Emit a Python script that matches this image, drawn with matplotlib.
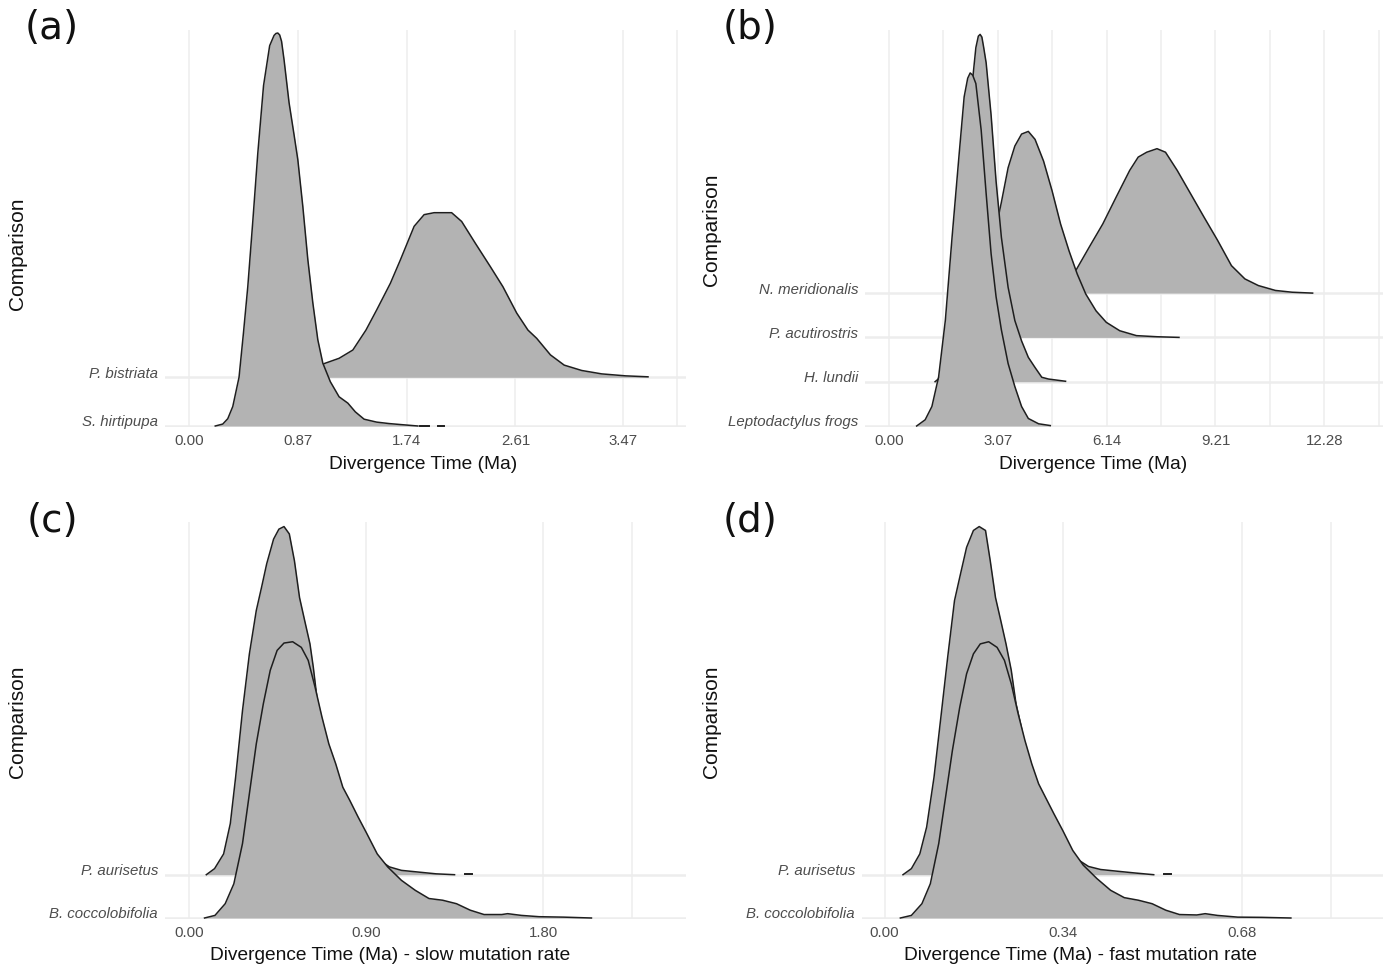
import matplotlib.pyplot as plt
import matplotlib.transforms as mtransforms
import numpy as np

FILL = '#B3B3B3'
LINE = '#1E1E1E'
GRID = '#EDEDED'
TXT = '#4D4D4D'
FONT = ['Liberation Sans', 'DejaVu Sans']

# ---- panel (a)
a_labels = ['S. hirtipupa', 'P. bistriata']
a_ticks = [0.00, 0.87, 1.74, 2.61, 3.47]
a_ticklabels = ['0.00', '0.87', '1.74', '2.61', '3.47']
a_grid = [0.00, 0.87, 1.74, 2.61, 3.47, 3.905]
a_hirt_x = [0.21, 0.27, 0.31, 0.35, 0.40, 0.435, 0.47, 0.51, 0.55, 0.596, 0.645, 0.68, 0.695, 0.71,
            0.725, 0.74, 0.76, 0.80, 0.84, 0.87, 0.91, 0.95, 0.99, 1.03, 1.07, 1.13, 1.20, 1.27,
            1.33, 1.40, 1.50, 1.60, 1.69, 1.83]
a_hirt_h = [0.00, 0.04, 0.15, 0.40, 1.00, 1.90, 2.86, 4.20, 5.60, 6.99, 7.81, 8.02, 8.06, 8.07,
            8.03, 7.90, 7.52, 6.64, 5.98, 5.47, 4.51, 3.42, 2.53, 1.77, 1.29, 0.91, 0.60, 0.47,
            0.29, 0.14, 0.08, 0.05, 0.03, 0.00]
a_hirt_dash = [(1.85, 1.92), (1.99, 2.04)]
a_bist_x = [0.45, 0.60, 0.75, 0.90, 1.00, 1.09, 1.20, 1.31, 1.415, 1.50, 1.61, 1.69, 1.80, 1.88,
            1.96, 2.10, 2.18, 2.29, 2.41, 2.51, 2.62, 2.71, 2.78, 2.89, 3.00, 3.14, 3.30, 3.49, 3.67]
a_bist_h = [0.00, 0.02, 0.06, 0.13, 0.20, 0.29, 0.39, 0.56, 0.97, 1.38, 1.93, 2.41, 3.10, 3.34,
            3.38, 3.38, 3.20, 2.75, 2.27, 1.86, 1.32, 0.97, 0.80, 0.46, 0.25, 0.14, 0.07, 0.03, 0.01]

# ---- panel (b)
b_labels = ['Leptodactylus frogs', 'H. lundii', 'P. acutirostris', 'N. meridionalis']
b_ticks = [0.00, 3.07, 6.14, 9.21, 12.28]
b_ticklabels = ['0.00', '3.07', '6.14', '9.21', '12.28']
b_grid = [0.0, 1.535, 3.07, 4.605, 6.14, 7.675, 9.21, 10.745, 12.28, 13.815]
b_lepto_x = [0.78, 1.02, 1.21, 1.40, 1.59, 1.78, 1.98, 2.12, 2.22, 2.29, 2.36, 2.45, 2.60, 2.74,
             2.88, 3.02, 3.17, 3.36, 3.55, 3.74, 3.93, 4.22, 4.55]
b_lepto_h = [0.00, 0.14, 0.44, 1.11, 2.39, 4.27, 6.15, 7.43, 7.85, 7.97, 7.92, 7.73, 6.68, 5.25,
             3.89, 2.92, 2.17, 1.41, 0.89, 0.44, 0.17, 0.05, 0.01]
b_lundii_x = [1.30, 1.45, 1.60, 1.75, 1.90, 2.05, 2.20, 2.36, 2.45, 2.52, 2.57, 2.62, 2.67, 2.74,
              2.88, 3.02, 3.17, 3.36, 3.55, 3.74, 3.93, 4.12, 4.31, 4.50, 4.98]
b_lundii_h = [0.00, 0.10, 0.30, 0.80, 1.80, 3.30, 5.00, 6.83, 7.54, 7.80, 7.84, 7.78, 7.55, 7.20,
              6.02, 4.53, 3.26, 2.13, 1.38, 0.92, 0.55, 0.32, 0.10, 0.06, 0.01]
b_acut_x = [1.70, 2.00, 2.50, 3.00, 3.17, 3.36, 3.55, 3.74, 3.93, 4.12, 4.36, 4.60, 4.84, 5.08,
            5.31, 5.55, 5.84, 6.13, 6.51, 6.98, 7.56, 8.18]
b_acut_h = [0.00, 0.40, 1.20, 2.40, 3.05, 3.83, 4.32, 4.59, 4.65, 4.47, 3.98, 3.31, 2.56, 1.95,
            1.43, 0.98, 0.60, 0.34, 0.15, 0.04, 0.015, 0.00]
b_meri_x = [3.20, 3.80, 4.30, 4.80, 5.27, 5.65, 6.03, 6.41, 6.79, 7.03, 7.27, 7.56, 7.80, 8.13,
            8.51, 8.89, 9.27, 9.66, 10.04, 10.42, 10.90, 11.37, 11.95]
b_meri_h = [0.00, 0.08, 0.18, 0.30, 0.51, 1.04, 1.56, 2.17, 2.77, 3.07, 3.18, 3.26, 3.18, 2.77,
            2.24, 1.71, 1.19, 0.62, 0.32, 0.17, 0.06, 0.02, 0.00]

# ---- panel (c) slow rate
c_labels = ['B. coccolobifolia', 'P. aurisetus']
c_ticks = [0.00, 0.90, 1.80]
c_ticklabels = ['0.00', '0.90', '1.80']
c_grid = [0.0, 0.9, 1.8, 2.25]
c_cocco_x = [0.079, 0.132, 0.184, 0.228, 0.272, 0.307, 0.342, 0.378, 0.413, 0.448, 0.483, 0.527,
             0.571, 0.606, 0.641, 0.676, 0.711, 0.746, 0.782, 0.817, 0.86, 0.904, 0.957, 1.01,
             1.08, 1.15, 1.22, 1.29, 1.36, 1.43, 1.50, 1.59, 1.62, 1.69, 1.78, 1.905, 2.046]
c_cocco_h = [0.00, 0.06, 0.33, 0.79, 1.72, 2.87, 4.02, 4.95, 5.72, 6.18, 6.35, 6.38,
             6.25, 5.95, 5.33, 4.64, 4.02, 3.56, 3.02, 2.72, 2.33, 1.95, 1.48, 1.18,
             0.87, 0.64, 0.45, 0.41, 0.33, 0.18, 0.08, 0.08, 0.10, 0.06, 0.03, 0.02, 0.00]
c_auri_x = [0.088, 0.13, 0.176, 0.21, 0.237, 0.272, 0.307, 0.342, 0.369, 0.395, 0.43, 0.457, 0.483,
            0.51, 0.536, 0.562, 0.588, 0.615, 0.632, 0.65, 0.676, 0.711, 0.764, 0.817, 0.887,
            0.957, 1.019, 1.08, 1.168, 1.256, 1.35]
c_auri_h = [0.00, 0.14, 0.48, 1.18, 2.25, 3.79, 5.10, 6.10, 6.64, 7.18, 7.75, 7.98, 8.04,
            7.87, 7.25, 6.40, 5.87, 5.33, 4.79, 4.10, 3.48, 2.64, 1.79, 1.18, 0.72,
            0.37, 0.18, 0.10, 0.06, 0.02, 0.00]
c_auri_dash = [(1.405, 1.44)]

# ---- panel (d) fast rate
d_labels = ['B. coccolobifolia', 'P. aurisetus']
d_ticks = [0.00, 0.34, 0.68]
d_ticklabels = ['0.00', '0.34', '0.68']
d_grid = [0.0, 0.34, 0.68, 0.85]
d_cocco_x = [0.030, 0.051, 0.071, 0.087, 0.103, 0.116, 0.129, 0.143, 0.156, 0.169, 0.182, 0.198,
             0.214, 0.228, 0.241, 0.254, 0.267, 0.280, 0.293, 0.306, 0.322, 0.339, 0.358, 0.378,
             0.404, 0.430, 0.456, 0.483, 0.509, 0.535, 0.561, 0.594, 0.610, 0.633, 0.672, 0.718,
             0.773]
d_cocco_h = [0.00, 0.06, 0.33, 0.79, 1.72, 2.79, 3.87, 4.87, 5.64, 6.10, 6.33, 6.38,
             6.25, 5.95, 5.41, 4.72, 4.10, 3.56, 3.10, 2.79, 2.41, 2.02, 1.56, 1.22,
             0.91, 0.64, 0.47, 0.41, 0.33, 0.18, 0.08, 0.07, 0.10, 0.06, 0.02, 0.015,
             0.00]
d_auri_x = [0.035, 0.051, 0.067, 0.080, 0.094, 0.107, 0.120, 0.133, 0.143, 0.156, 0.169, 0.180,
            0.192, 0.201, 0.211, 0.221, 0.231, 0.241, 0.250, 0.260, 0.273, 0.293, 0.313, 0.339,
            0.365, 0.388, 0.411, 0.443, 0.476, 0.512]
d_auri_h = [0.00, 0.14, 0.48, 1.10, 2.25, 3.63, 5.02, 6.33, 6.87, 7.56, 7.95, 8.04,
            7.95, 7.25, 6.40, 5.87, 5.33, 4.72, 3.95, 3.41, 2.56, 1.72, 1.10, 0.64,
            0.37, 0.19, 0.12, 0.08, 0.04, 0.00]
d_auri_dash = [(0.532, 0.545)]

W, H = 1392, 973
fig = plt.figure(figsize=(W / 100, H / 100), dpi=100)


def add_axes(left, right, top, bottom):
    return fig.add_axes([left / W, 1 - bottom / H, (right - left) / W, (bottom - top) / H])


def ridges(ax, ridge_list, labels, ticks, ticklabels, grid, xlim, ylim, dashes=None):
    for g in grid:
        ax.axvline(g, color=GRID, lw=1.1, zorder=0)
    for i in range(len(labels)):
        ax.axhline(i + 1, color=GRID, lw=1.8, zorder=0)
    n = len(ridge_list)
    # top ridge drawn first, lower ones overlap it
    for i in reversed(range(n)):
        x, h = ridge_list[i]
        base = i + 1
        top = base + np.array(h)
        z = 2 + (n - i) * 2
        ax.fill_between(x, base, top, color=FILL, lw=0, zorder=z)
        ax.plot(x, top, color=LINE, lw=1.1, zorder=z + 1, solid_joinstyle='round')
        if dashes and i in dashes:
            for x0, x1 in dashes[i]:
                ax.plot([x0, x1], [base + 0.01, base + 0.01], color=LINE, lw=1.4, zorder=z + 1)
    ax.set_xlim(*xlim)
    ax.set_ylim(*ylim)
    ax.set_xticks(ticks, ticklabels, family=FONT, fontsize=10.8, color=TXT)
    ax.set_yticks(range(1, n + 1), labels, family=FONT, fontsize=10.8, color=TXT, style='italic')
    ax.tick_params(length=0, pad=5)
    off = mtransforms.ScaledTranslation(0, 5 / 100, fig.dpi_scale_trans)
    for t in ax.get_yticklabels():
        t.set_transform(t.get_transform() + off)
    for s in ax.spines.values():
        s.set_visible(False)


ax_a = add_axes(165, 686, 30, 427)
ridges(ax_a, [(a_hirt_x, a_hirt_h), (a_bist_x, a_bist_h)], a_labels, a_ticks, a_ticklabels,
       a_grid, (-24 / 125.07, 497 / 125.07), (1 - 1 / 48.7, 1 + 396 / 48.7), {0: a_hirt_dash})

ax_b = add_axes(865, 1383, 30, 427)
ridges(ax_b, [(b_lepto_x, b_lepto_h), (b_lundii_x, b_lundii_h), (b_acut_x, b_acut_h),
              (b_meri_x, b_meri_h)], b_labels, b_ticks, b_ticklabels,
       b_grid, (-24 / 35.45, 494 / 35.45), (1 - 1 / 44.3, 1 + 396 / 44.3))

ax_c = add_axes(165, 686, 522, 919)
ridges(ax_c, [(c_cocco_x, c_cocco_h), (c_auri_x, c_auri_h)], c_labels, c_ticks, c_ticklabels,
       c_grid, (-24 / 196.7, 497 / 196.7), (1 - 1 / 43.3, 1 + 396 / 43.3), {1: c_auri_dash})

ax_d = add_axes(862, 1383, 522, 919)
ridges(ax_d, [(d_cocco_x, d_cocco_h), (d_auri_x, d_auri_h)], d_labels, d_ticks, d_ticklabels,
       d_grid, (-22.6 / 525.6, 498.4 / 525.6), (1 - 1 / 43.3, 1 + 396 / 43.3), {1: d_auri_dash})


def ftext(x, y, s, **kw):
    fig.text(x / W, 1 - y / H, s, ha='center', va='center', **kw)


for x, y, s in [(423, 464, 'Divergence Time (Ma)'), (1093, 464, 'Divergence Time (Ma)'),
                (390, 956, 'Divergence Time (Ma) - slow mutation rate'),
                (1081, 956, 'Divergence Time (Ma) - fast mutation rate')]:
    ftext(x, y, s, family=FONT, fontsize=13.8, color='#111111')

for x, y in [(18, 254), (712, 230), (18, 722), (712, 722)]:
    ftext(x, y, 'Comparison', family=FONT, fontsize=15, color='#111111', rotation=90)

for x, y, s in [(52, 28, '(a)'), (750, 28, '(b)'), (52, 521, '(c)'), (750, 521, '(d)')]:
    ftext(x, y, s, family='DejaVu Sans', fontsize=28, color='#111111')

fig.savefig('out.png', dpi=100)
